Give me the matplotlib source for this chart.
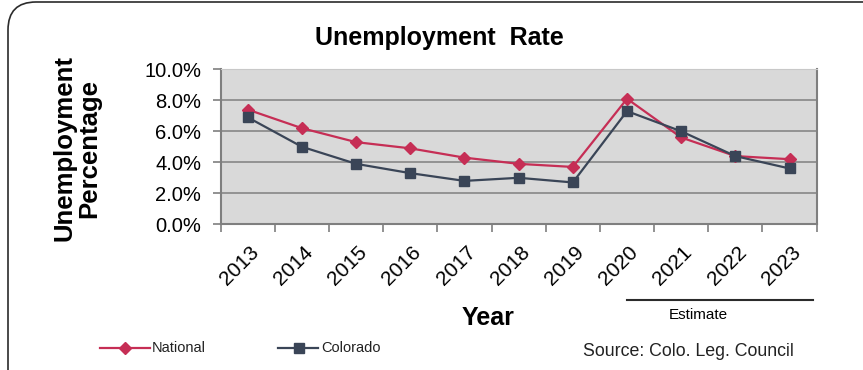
import matplotlib
matplotlib.use("Agg")
import matplotlib.pyplot as plt
from matplotlib.lines import Line2D
from matplotlib.patches import FancyBboxPatch
from matplotlib.transforms import IdentityTransform, ScaledTranslation

plt.rcParams['font.family'] = ['Liberation Sans', 'DejaVu Sans']

years = ['2013', '2014', '2015', '2016', '2017', '2018', '2019',
         '2020', '2021', '2022', '2023']
national = [7.4, 6.2, 5.3, 4.9, 4.3, 3.9, 3.7, 8.1, 5.6, 4.4, 4.2]
colorado = [6.9, 5.0, 3.9, 3.3, 2.8, 3.0, 2.7, 7.3, 6.0, 4.4, 3.6]
yticks = [0, 2, 4, 6, 8, 10]

red = '#C62E55'
slate = '#3A4557'
grid = '#7F7F7F'

fig = plt.figure(figsize=(8.63, 3.70), dpi=100)
fig.patch.set_facecolor('white')

# rounded frame running off the right and bottom edges
frame = FancyBboxPatch((8, -30), 900, 398, boxstyle='round,pad=0,rounding_size=28',
                       transform=IdentityTransform(), fill=False,
                       ec='#2b2b2b', lw=1.2)
fig.add_artist(frame)

ax = fig.add_axes([0.2557, 0.3938, 0.6906, 0.4189])
ax.set_facecolor('#D9D9D9')
x = list(range(len(years)))
ax.plot(x, national, color=red, lw=1.6, marker='D', ms=6.5, mec=red, mfc=red, zorder=3)
ax.plot(x, colorado, color=slate, lw=1.6, marker='s', ms=7.5, mec=slate, mfc=slate, zorder=4)

ax.set_xlim(-0.5, len(years) - 0.5)
ax.set_ylim(0, 10)
ax.set_yticks(yticks)
ax.set_yticklabels([f'{v:.1f}%' for v in yticks], fontsize=14.5)
ax.yaxis.grid(True, color=grid, lw=1.1)
ax.set_axisbelow(True)

ax.set_xticks(x)
ax.set_xticklabels(years, fontsize=15, rotation=45, ha='right', va='top',
                   rotation_mode='anchor')
ax.set_xticks([i - 0.5 for i in range(len(years) + 1)], minor=True)
ax.tick_params(axis='x', which='major', length=0, pad=13)
ax.tick_params(axis='x', which='minor', length=6, width=1.2, color=grid, direction='out')
ax.tick_params(axis='y', length=6, width=1.2, color=grid, direction='out', pad=8)
shift = ScaledTranslation(1 / 72, 0, fig.dpi_scale_trans)
for lbl in ax.get_xticklabels():
    lbl.set_transform(lbl.get_transform() + shift)

for side in ['left', 'bottom', 'right']:
    ax.spines[side].set_color(grid)
    ax.spines[side].set_linewidth(1.5)
ax.spines['top'].set_color('#C8C8C8')
ax.spines['top'].set_linewidth(0.8)

fig.text(0.509, 0.897, 'Unemployment  Rate', ha='center', va='center',
         fontsize=18, fontweight='bold')
fig.text(0.089, 0.60, 'Unemployment\nPercentage', ha='center', va='center',
         rotation=90, fontsize=18.5, fontweight='bold', linespacing=1.0)
fig.text(0.566, 0.14, 'Year', ha='center', va='center', fontsize=18, fontweight='bold')

# estimate bracket under the last years
fig.add_artist(Line2D([627 / 863, 813 / 863], [0.19, 0.19], color='#2b2b2b', lw=1.5))
fig.text(698 / 863, 0.149, 'Estimate', ha='center', va='center', fontsize=11)

# legend drawn by hand along the bottom
ly = 0.0595
fig.add_artist(Line2D([100 / 863, 150 / 863], [ly, ly], color=red, lw=1.6))
fig.add_artist(Line2D([125 / 863], [ly], color=red, marker='D', ms=6, mec=red, mfc=red))
fig.text(152 / 863, ly, 'National', ha='left', va='center', fontsize=10.5, color='#222')
fig.add_artist(Line2D([278 / 863, 318 / 863], [ly, ly], color=slate, lw=1.6))
fig.add_artist(Line2D([299 / 863], [ly], color=slate, marker='s', ms=7, mec=slate, mfc=slate))
fig.text(321 / 863, ly, 'Colorado', ha='left', va='center', fontsize=10.5, color='#222')

fig.text(583 / 863, 0.049, 'Source: Colo. Leg. Council', ha='left', va='center',
         fontsize=12.8, color='#222')

fig.savefig('out.png', dpi=100)
